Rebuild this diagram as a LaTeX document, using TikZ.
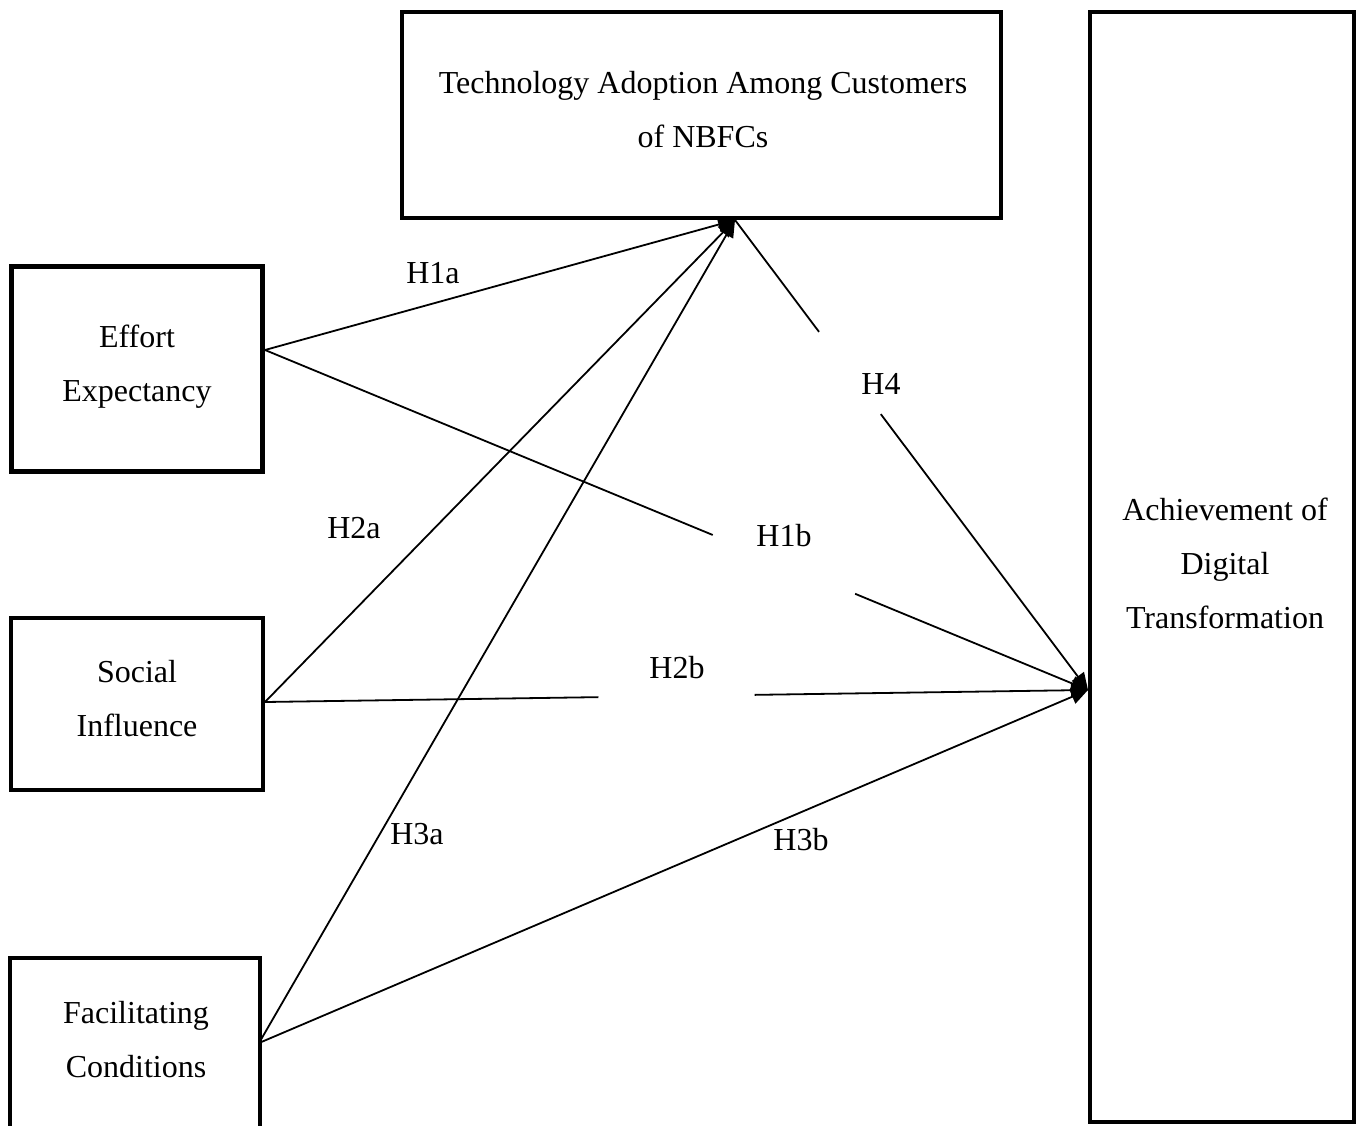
\documentclass[tikz,border=0pt]{standalone}
\usepackage{fontspec}
\setmainfont{Liberation Serif}
\usetikzlibrary{arrows.meta,calc}
\begin{document}
\begin{tikzpicture}[x=1pt,y=-1pt,
  box/.style={draw,line width=4.5pt,inner sep=0pt},
  txt/.style={align=center,inner sep=0pt,font=\fontsize{32}{54}\selectfont},
  lbl/.style={inner sep=1pt,font=\fontsize{32}{36}\selectfont},
  conn/.style={line width=1.8pt},
  arr/.style={conn,-{Triangle[length=17pt,width=15pt]}}]
\useasboundingbox (0,0) rectangle (1362,1126);
\begin{scope}
\clip (0,0) rectangle (1362,1126);
% boxes
\node[box,minimum width=599pt,minimum height=206pt] (top) at (701.5,115) {};
\node[box,minimum width=264pt,minimum height=1110pt] (adt) at (1222,567) {};
\node[box,minimum width=251pt,minimum height=205pt] (ee) at (137,369) {};
\node[box,minimum width=252pt,minimum height=172pt] (si) at (137,704) {};
\node[box,minimum width=250pt,minimum height=242pt] (fc) at (135,1079) {};
\end{scope}
% texts
\node[txt] (topT) at (703,110) {Technology Adoption Among Customers\\of NBFCs};
\node[txt] (adtT) at (1225,563) {Achievement of\\Digital\\Transformation};
\node[txt] (eeT) at (137,367) {Effort\\Expectancy};
\node[txt] (siT) at (137,699) {Social\\Influence};
\node[txt] (fcT) at (136,1040) {Facilitating\\Conditions};
% ports
\coordinate (eP) at (265,350);
\coordinate (sP) at (265,702);
\coordinate (fP) at (259,1043);
\coordinate (tP) at (735,220);
\coordinate (rP) at (1088,690);
% gap coordinates
\coordinate (h1bA) at ($(eP)!0.544!(rP)$);
\coordinate (h1bB) at ($(eP)!0.717!(rP)$);
\coordinate (h2bA) at ($(sP)!0.405!(rP)$);
\coordinate (h2bB) at ($(sP)!0.595!(rP)$);
\coordinate (h4A) at ($(tP)!0.238!(rP)$);
\coordinate (h4B) at ($(tP)!0.413!(rP)$);
% connectors
\draw[arr] (eP) -- (tP);
\draw[conn] (eP) -- (h1bA);
\draw[arr] (h1bB) -- (rP);
\draw[arr] (sP) -- (tP);
\draw[conn] (sP) -- (h2bA);
\draw[arr] (h2bB) -- (rP);
\draw[arr] (fP) -- (tP);
\draw[arr] (fP) -- (rP);
\draw[conn] (h4A) -- (tP);
\draw[arr] (h4B) -- (rP);
% labels
\node[lbl] (l1a) at (433,273) {H1a};
\node[lbl] (l1b) at (784,536) {H1b};
\node[lbl] (l2a) at (354,528) {H2a};
\node[lbl] (l2b) at (677,668) {H2b};
\node[lbl] (l3a) at (417,834) {H3a};
\node[lbl] (l3b) at (801,840) {H3b};
\node[lbl] (l4) at (881,384) {H4};
\end{tikzpicture}
\end{document}
